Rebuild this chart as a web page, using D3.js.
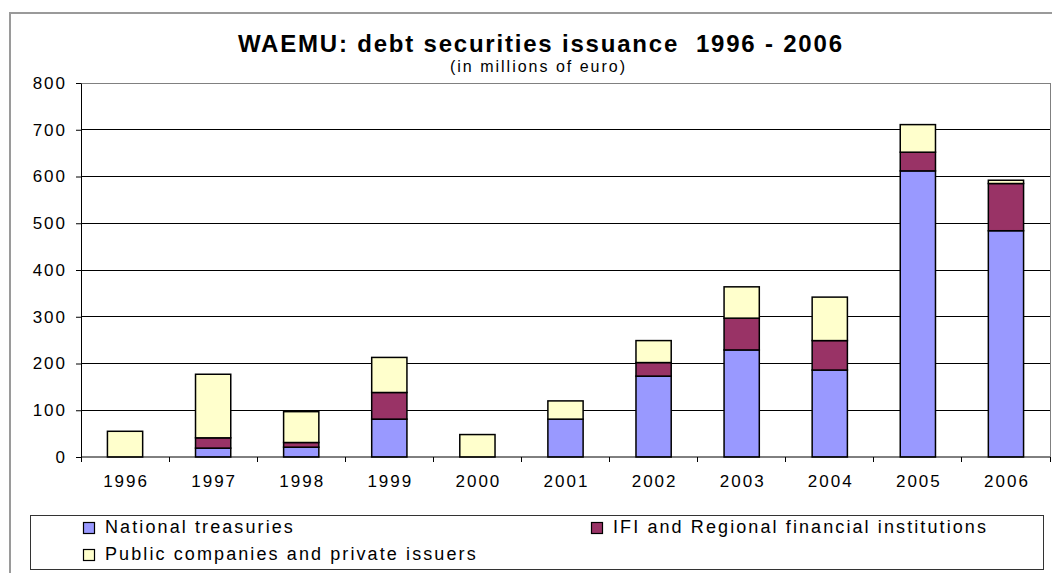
<!DOCTYPE html>
<html>
<head>
<meta charset="utf-8">
<script src="https://cdn.jsdelivr.net/npm/d3@7"></script>
<style>
  body { margin: 0; background: #fff; }
  svg { font-family: "Liberation Sans", Arial, sans-serif; }
</style>
</head>
<body>
<svg id="chart"></svg>
<script>
const years = ["1996", "1997", "1998", "1999", "2000", "2001", "2002", "2003", "2004", "2005", "2006"];
const treasuries = [0, 19, 21, 81, 0, 81, 173, 229, 186, 612, 484];
const ifi = [0, 22, 10, 57, 0, 0, 29, 68, 63, 40, 101];
const publicIssuers = [55, 136, 66, 75, 48, 39, 47, 67, 93, 59, 7];
const seriesNames = ["National treasuries", "IFI and Regional financial institutions", "Public companies and private issuers"];
const yTicks = [0, 100, 200, 300, 400, 500, 600, 700, 800];

const width = 1052, height = 573;
const colors = ["#9999ff", "#993366", "#ffffcc"];

const svg = d3.select("#chart").attr("width", width).attr("height", height);

// chart border
svg.append("rect")
  .attr("x", 10).attr("y", 13).attr("width", 1060).attr("height", 600)
  .attr("fill", "none").attr("stroke", "#9a9a9a").attr("stroke-width", 2);

// titles
svg.append("text")
  .attr("x", 540).attr("y", 52)
  .attr("text-anchor", "middle")
  .attr("font-size", 24).attr("font-weight", "bold")
  .attr("textLength", 604).attr("lengthAdjust", "spacing")
  .style("white-space", "pre")
  .text("WAEMU: debt securities issuance  1996 - 2006");

svg.append("text")
  .attr("x", 537.5).attr("y", 72)
  .attr("text-anchor", "middle")
  .attr("font-size", 16)
  .attr("textLength", 175).attr("lengthAdjust", "spacing")
  .text("(in millions of euro)");

const x = d3.scaleBand().domain(years).range([81, 1050]).paddingInner(0.6).paddingOuter(0.3);
const xStep = d3.scaleBand().domain(years).range([81, 1050]).padding(0);
const y = d3.scaleLinear().domain([0, 800]).range([457, 83]);

// gridlines
svg.append("g").selectAll("line")
  .data(yTicks.filter(d => d > 0))
  .join("line")
    .attr("x1", 81).attr("x2", 1050)
    .attr("y1", d => y(d)).attr("y2", d => y(d))
    .attr("stroke", d => d === 800 ? "#808080" : "#000")
    .attr("stroke-width", 1)
    .attr("shape-rendering", "crispEdges");

// right plot border
svg.append("line")
  .attr("x1", 1050).attr("x2", 1050).attr("y1", y(800)).attr("y2", y(0))
  .attr("stroke", "#808080").attr("shape-rendering", "crispEdges");

// stacked bars
const table = years.map((yr, i) => ({ year: yr, t: treasuries[i], f: ifi[i], p: publicIssuers[i] }));
const stacked = d3.stack().keys(["t", "f", "p"])(table);

svg.append("g").selectAll("g")
  .data(stacked)
  .join("g")
    .attr("fill", (d, i) => colors[i])
  .selectAll("rect")
  .data(d => d.filter(s => s[1] - s[0] > 0))
  .join("rect")
    .attr("x", d => x(d.data.year))
    .attr("width", x.bandwidth())
    .attr("y", d => y(d[1]))
    .attr("height", d => y(d[0]) - y(d[1]))
    .attr("stroke", "#000")
    .attr("stroke-width", 1.5);

// y axis
const yAxis = svg.append("g")
  .attr("transform", "translate(81,0)")
  .call(d3.axisLeft(y).tickValues(yTicks).tickSize(5).tickPadding(9).tickSizeOuter(0));
yAxis.select(".domain").attr("stroke", "#000");
yAxis.selectAll("text")
  .attr("font-size", 17).attr("fill", "#000")
  .attr("font-family", "Liberation Sans, Arial, sans-serif")
  .style("letter-spacing", "2px");

// x axis
const xAxis = svg.append("g")
  .attr("transform", `translate(0,${y(0)})`)
  .call(d3.axisBottom(xStep).tickSize(0).tickPadding(18).tickSizeOuter(0));
xAxis.select(".domain").attr("stroke", "#000").attr("d", "M81,0H1050");
xAxis.selectAll("text")
  .attr("font-size", 17).attr("fill", "#000")
  .attr("font-family", "Liberation Sans, Arial, sans-serif")
  .attr("dx", 1)
  .style("letter-spacing", "2px");

// boundary ticks between categories
svg.append("g").selectAll("line")
  .data(years.concat(["end"]))
  .join("line")
    .attr("x1", (d, i) => i < years.length ? xStep(d) : 1050)
    .attr("x2", (d, i) => i < years.length ? xStep(d) : 1050)
    .attr("y1", y(0)).attr("y2", y(0) + 5)
    .attr("stroke", "#000")
    .attr("shape-rendering", "crispEdges");

// legend
const legend = svg.append("g");
legend.append("rect")
  .attr("x", 30.5).attr("y", 515.5).attr("width", 1013).attr("height", 54)
  .attr("fill", "#fff").attr("stroke", "#333").attr("stroke-width", 1);

const legendPos = [[83, 522], [591, 522], [83, 549]];
const items = legend.selectAll(".legend-item")
  .data(seriesNames)
  .join("g")
    .attr("class", "legend-item")
    .attr("transform", (d, i) => `translate(${legendPos[i][0]},${legendPos[i][1]})`);

items.append("rect")
  .attr("x", 0.5).attr("y", 0.5).attr("width", 11).attr("height", 11)
  .attr("fill", (d, i) => colors[i])
  .attr("stroke", "#000").attr("stroke-width", 1.2);

items.append("text")
  .attr("x", 22).attr("y", 11)
  .attr("font-size", 18)
  .style("letter-spacing", "2.1px")
  .text(d => d);
</script>
</body>
</html>
